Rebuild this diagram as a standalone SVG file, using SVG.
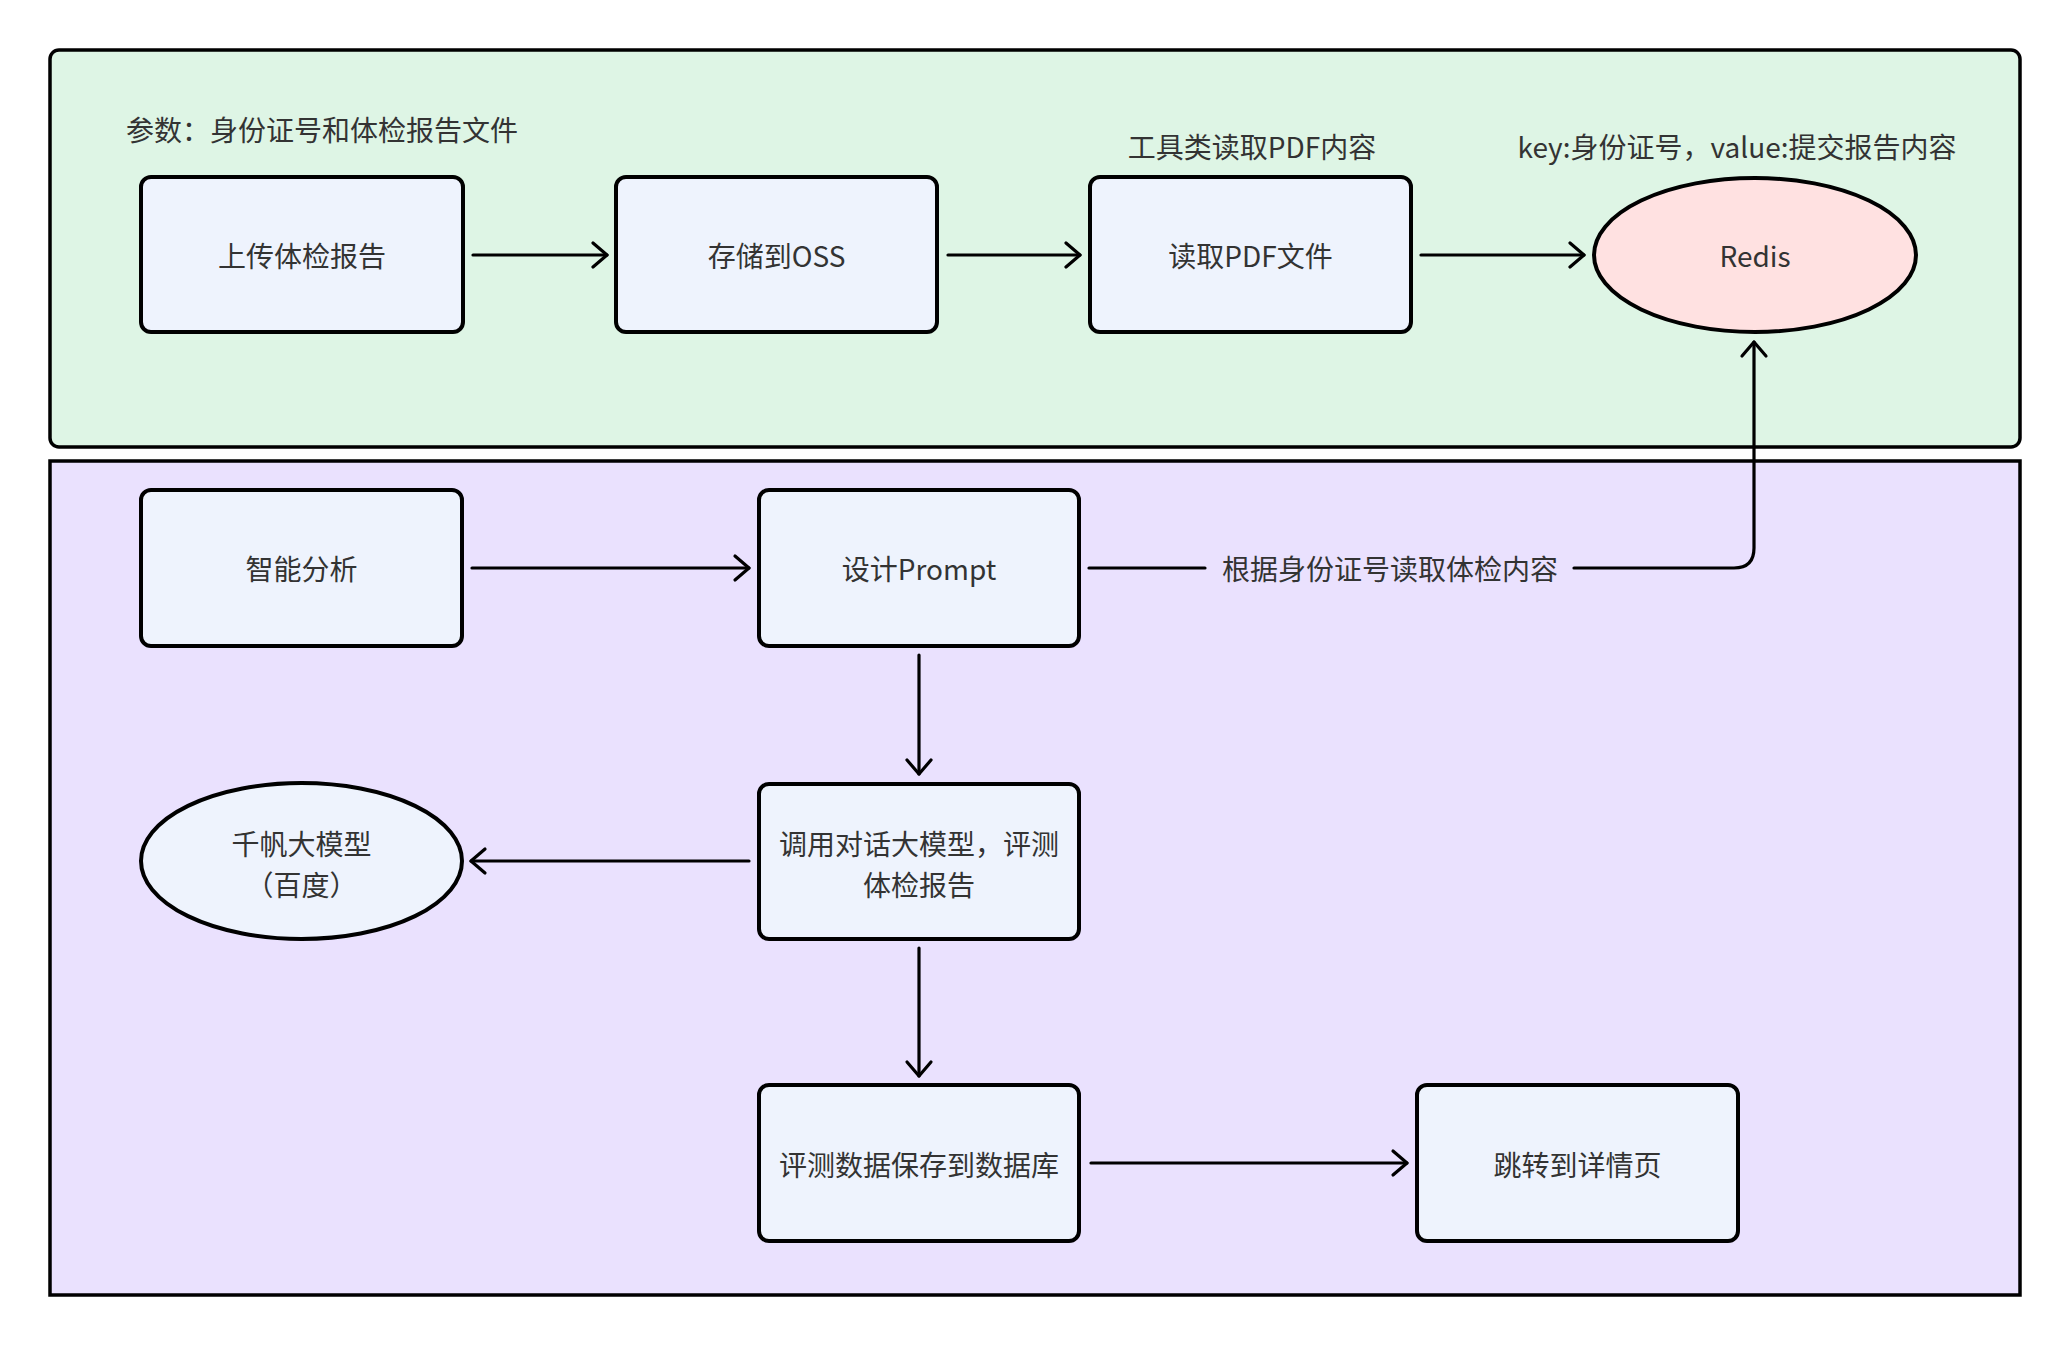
<svg xmlns="http://www.w3.org/2000/svg" width="2072" height="1346" viewBox="0 0 2072 1346">
<style>
.t{font-family:"Noto Sans CJK SC","Noto Sans",sans-serif;font-size:28px;fill:#333333;dominant-baseline:central;text-anchor:middle}
.l{text-anchor:start}
.box{fill:#EEF3FD;stroke:#000;stroke-width:4}
.c{fill:none;stroke:#000;stroke-width:3.2;stroke-linecap:round;stroke-linejoin:round}
</style>
<defs>
<marker id="ah" viewBox="0 0 20 30" refX="17" refY="15" markerWidth="20" markerHeight="30" markerUnits="userSpaceOnUse" orient="auto">
<path d="M3 3 L17 15 L3 27" fill="none" stroke="#000" stroke-width="3.2" stroke-linecap="round" stroke-linejoin="round"/>
</marker>
</defs>
<rect width="2072" height="1346" fill="#ffffff"/>
<g id="container-upload">
<rect x="50" y="50" width="1970" height="397" rx="9" fill="#DEF5E5" stroke="#000" stroke-width="3.5"/>
<text class="t l" x="126" y="129">参数：身份证号和体检报告文件</text>
<text class="t" x="1252" y="146">工具类读取PDF内容</text>
<text class="t" x="1737" y="146">key:身份证号，value:提交报告内容</text>
</g>
<g id="container-analysis">
<rect x="50" y="461" width="1970" height="834" fill="#EAE1FE" stroke="#000" stroke-width="3.5"/>
</g>
<g id="n-upload">
<rect class="box" x="141" y="177" width="322" height="155" rx="10"/>
<text class="t" x="302" y="255">上传体检报告</text>
</g>
<g id="n-oss">
<rect class="box" x="616" y="177" width="321" height="155" rx="10"/>
<text class="t" x="776.5" y="255">存储到OSS</text>
</g>
<g id="n-readpdf">
<rect class="box" x="1090" y="177" width="321" height="155" rx="10"/>
<text class="t" x="1250.5" y="255">读取PDF文件</text>
</g>
<g id="n-redis">
<ellipse cx="1755" cy="255" rx="161" ry="77" fill="#FFE1E1" stroke="#000" stroke-width="4"/>
<text class="t" x="1755" y="255">Redis</text>
</g>
<g id="n-analysis">
<rect class="box" x="141" y="490" width="321" height="156" rx="10"/>
<text class="t" x="301.5" y="568">智能分析</text>
</g>
<g id="n-prompt">
<rect class="box" x="759" y="490" width="320" height="156" rx="10"/>
<text class="t" x="919" y="568">设计Prompt</text>
</g>
<g id="n-call">
<rect class="box" x="759" y="784" width="320" height="155" rx="10"/>
<text class="t" x="919" y="843">调用对话大模型，评测</text>
<text class="t" x="919" y="884">体检报告</text>
</g>
<g id="n-qianfan">
<ellipse cx="301.5" cy="861" rx="160.5" ry="78" fill="#EEF3FD" stroke="#000" stroke-width="4"/>
<text class="t" x="301.5" y="843">千帆大模型</text>
<text class="t" x="301.5" y="884">（百度）</text>
</g>
<g id="n-save">
<rect class="box" x="759" y="1085" width="320" height="156" rx="10"/>
<text class="t" x="919" y="1164">评测数据保存到数据库</text>
</g>
<g id="n-detail">
<rect class="box" x="1417" y="1085" width="321" height="156" rx="10"/>
<text class="t" x="1577.5" y="1164">跳转到详情页</text>
</g>
<g id="connectors">
<path class="c" d="M473 255 L607 255" marker-end="url(#ah)"/>
<path class="c" d="M948 255 L1080 255" marker-end="url(#ah)"/>
<path class="c" d="M1421 255 L1584 255" marker-end="url(#ah)"/>
<path class="c" d="M472 568 L749 568" marker-end="url(#ah)"/>
<path class="c" d="M919 655 L919 774" marker-end="url(#ah)"/>
<path class="c" d="M749 861 L471 861" marker-end="url(#ah)"/>
<path class="c" d="M919 948 L919 1076" marker-end="url(#ah)"/>
<path class="c" d="M1091 1163 L1407 1163" marker-end="url(#ah)"/>
<path class="c" d="M1089 568 L1205 568"/>
<path class="c" d="M1574 568 L1734 568 Q1754 568 1754 548 L1754 342" marker-end="url(#ah)"/>
<text class="t" x="1390" y="568">根据身份证号读取体检内容</text>
</g>
</svg>
